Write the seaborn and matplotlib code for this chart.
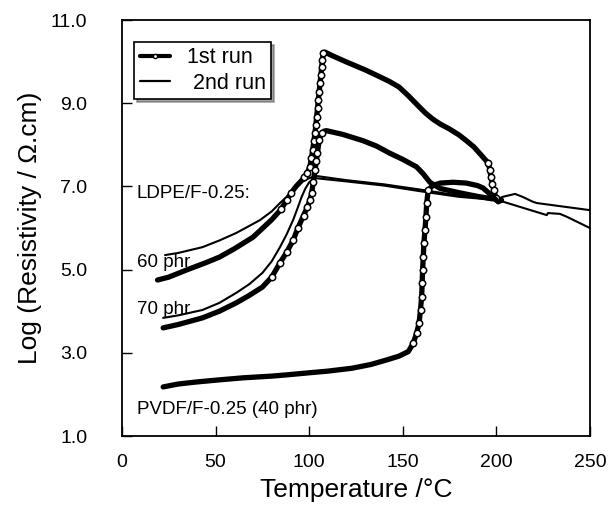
import matplotlib
matplotlib.use("Agg")
import matplotlib.pyplot as plt
import seaborn as sns
import numpy as np
from matplotlib.lines import Line2D

# ---- data ----
T60_1 = [19, 25, 35, 45, 52, 60, 70, 80, 85, 88, 90.5, 93, 95.5, 97.5, 99, 100.4, 101.2, 101.9,
         102.5, 103.1, 103.6, 104, 104.5, 104.9, 105.4, 105.8, 106.3, 106.7, 107.1, 107.5, 108.4,
         112, 120, 130, 138, 143, 148, 153, 158, 162, 166, 170, 175, 180, 184, 188, 192, 195.7,
         196.6, 197.1, 197.8, 198.7, 199.8, 201, 202.8]
R60_1 = [4.75, 4.82, 5.0, 5.17, 5.3, 5.5, 5.78, 6.2, 6.45, 6.67, 6.85, 7.0, 7.12, 7.22, 7.33,
         7.47, 7.68, 7.88, 8.08, 8.28, 8.48, 8.68, 8.88, 9.08, 9.28, 9.48, 9.68, 9.88, 10.05, 10.2,
         10.23, 10.15, 9.99, 9.8, 9.63, 9.52, 9.39, 9.18, 8.95, 8.77, 8.62, 8.5, 8.38, 8.24, 8.1,
         7.95, 7.75, 7.56, 7.39, 7.23, 7.07, 6.91, 6.71, 6.63, 6.67]

T70_1 = [22, 30, 43, 52, 61, 68, 75, 80, 84.4, 88, 91.5, 94, 97, 99, 100.4, 101.3, 102.2, 103.1,
         103.8, 104.4, 105.4, 106.7, 108, 109.3, 118, 128.7, 136, 143, 150, 157.4, 161, 164.5,
         170, 180, 190, 198]
R70_1 = [3.6, 3.68, 3.84, 4.0, 4.2, 4.38, 4.58, 4.82, 5.16, 5.42, 5.71, 6.0, 6.3, 6.5, 6.67,
         6.83, 7.1, 7.39, 7.6, 7.8, 8.12, 8.28, 8.33, 8.34, 8.25, 8.1, 7.97, 7.8, 7.65, 7.47, 7.3,
         7.1, 6.95, 6.85, 6.76, 6.7]

TPV_1 = [22, 30, 40, 52, 65, 80, 88, 100, 110, 123, 133, 141.5, 148, 153, 155.6, 157.4, 158.7,
         159.5, 160.1, 160.4, 160.6, 161, 161.3, 161.9, 162.4, 162.8, 163.6, 166, 170, 177, 184,
         190, 193, 197, 200]
RPV_1 = [2.18, 2.25, 2.3, 2.35, 2.4, 2.44, 2.47, 2.52, 2.56, 2.63, 2.72, 2.83, 2.92, 3.03, 3.23,
         3.47, 3.71, 4.03, 4.35, 4.67, 4.99, 5.31, 5.63, 5.95, 6.27, 6.59, 6.91, 7.02, 7.08, 7.1,
         7.08, 7.02, 6.96, 6.8, 6.67]

T60_2 = [23, 30, 43, 52, 61, 68, 73.7, 80, 84.4, 88, 91.5, 95, 99, 102, 104, 120, 140, 160, 180,
         200, 203.5, 210, 214, 219.6, 221.7, 235, 250]
R60_2 = [5.35, 5.4, 5.54, 5.7, 5.88, 6.05, 6.19, 6.4, 6.6, 6.75, 6.91, 7.08, 7.18, 7.23, 7.25,
         7.15, 7.05, 6.92, 6.78, 6.68, 6.75, 6.82, 6.75, 6.63, 6.6, 6.52, 6.43]

T70_2 = [22, 30, 43, 52, 61, 68, 75, 80, 84.4, 88, 91.5, 94, 96, 98, 100, 103, 120, 140, 160,
         180, 200.9, 227, 227.6, 234, 237.7, 250]
R70_2 = [3.84, 3.9, 4.03, 4.2, 4.44, 4.65, 4.92, 5.2, 5.54, 5.85, 6.2, 6.5, 6.75, 6.95, 7.1,
         7.2, 7.12, 7.02, 6.88, 6.75, 6.67, 6.31, 6.36, 6.34, 6.27, 6.0]

x_ticks = [0, 50, 100, 150, 200, 250]
y_ticks = [1.0, 3.0, 5.0, 7.0, 9.0, 11.0]

# ---- style ----
sns.set_theme(style="ticks", rc={"text.color": "black", "axes.labelcolor": "black",
                                  "xtick.color": "black", "ytick.color": "black",
                                  "axes.edgecolor": "black"})
plt.rcParams["font.family"] = ["Liberation Sans", "DejaVu Sans"]

fig = plt.figure(figsize=(6.1, 5.12), dpi=100)
ax = fig.add_axes([0.2, 0.1484, 0.767, 0.8125])


def steep_marks(t, r):
    """Markers are only distinguishable where the curve is steep (dense data elsewhere)."""
    t = np.asarray(t, float)
    r = np.asarray(r, float)
    dx = np.gradient(t) * 1.872
    dy = np.gradient(r) * 41.6
    return list(np.where(np.abs(dy) > 1.3 * np.abs(dx))[0])


def first_run(t, r):
    sns.lineplot(x=t, y=r, ax=ax, color="black", lw=3.8, sort=False, estimator=None,
                 marker="o", markersize=4.6, markerfacecolor="white",
                 markeredgecolor="black", markeredgewidth=1.1,
                 markevery=steep_marks(t, r))


second_kw = dict(color="black", lw=1.5, sort=False, estimator=None)
sns.lineplot(x=T60_2, y=R60_2, ax=ax, **second_kw)
sns.lineplot(x=T70_2, y=R70_2, ax=ax, **second_kw)
first_run(T60_1, R60_1)
first_run(T70_1, R70_1)
first_run(TPV_1, RPV_1)

ax.set_xlim(0, 250)
ax.set_ylim(1.0, 11.0)
ax.set_xticks(x_ticks)
ax.set_yticks(y_ticks)
ax.set_yticklabels([f"{v:.1f}" for v in y_ticks])
ax.tick_params(direction="in", length=7, width=1.0, colors="black", labelsize=14)
ax.tick_params(axis="x", pad=13)
ax.tick_params(axis="y", pad=25)
for s in ax.spines.values():
    s.set_visible(True)
    s.set_linewidth(1.3)
    s.set_color("black")

ax.set_xlabel("Temperature /°C", fontsize=19, labelpad=5)
ax.set_ylabel("Log (Resistivity / Ω.cm)", fontsize=19, labelpad=6)

# annotations
ann_fs = 13.5
ax.text(8, 6.84, "LDPE/F-0.25:", fontsize=ann_fs, va="center", ha="left")
ax.text(8, 5.18, "60 phr", fontsize=ann_fs, va="center", ha="left")
ax.text(8, 4.03, "70 phr", fontsize=ann_fs, va="center", ha="left")
ax.text(8, 1.63, "PVDF/F-0.25 (40 phr)", fontsize=ann_fs, va="center", ha="left")

# legend
handles = [Line2D([], [], color="black", lw=3, marker="o", markersize=3,
                  markerfacecolor="white", markeredgecolor="black"),
           Line2D([], [], color="black", lw=1.6)]
leg = ax.legend(handles, ["1st run", " 2nd run"], loc="upper left",
                bbox_to_anchor=(0.026, 0.947), frameon=True, shadow=True, fancybox=False,
                fontsize=15.5, handlelength=1.4, borderpad=0.25, labelspacing=0.2,
                handletextpad=0.8, borderaxespad=0.0)
leg.get_frame().set_edgecolor("black")
leg.get_frame().set_linewidth(1.2)
leg.get_frame().set_alpha(1)

fig.savefig("out.png", dpi=100)
